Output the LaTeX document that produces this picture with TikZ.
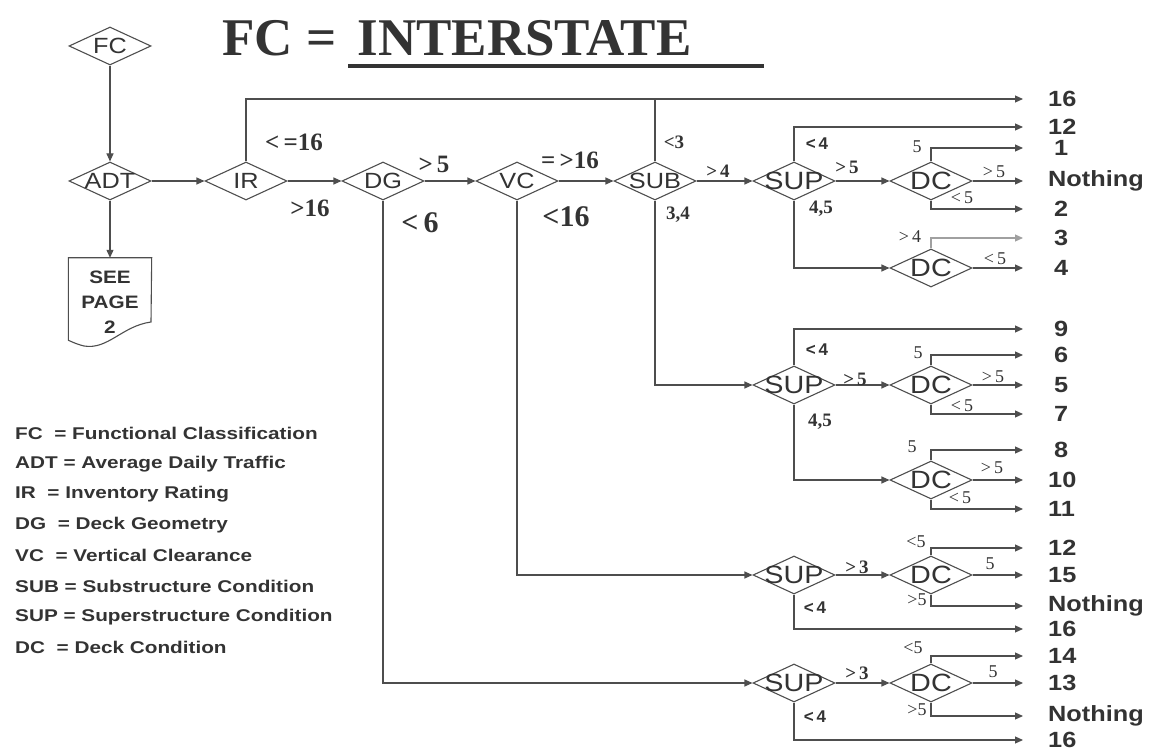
\documentclass[tikz,border=0pt]{standalone}
\usepackage{fontspec}
\setmainfont{Liberation Serif}
\setsansfont{Liberation Sans}
\newfontfamily\widesf[FakeStretch=1.15]{Liberation Sans}
\newfontfamily\xwidesf[FakeStretch=1.22]{Liberation Sans}
\usepackage{tikz}
\usetikzlibrary{arrows.meta,shapes.geometric}
\definecolor{ink}{HTML}{333333}
\definecolor{linec}{HTML}{4E4E4E}
\definecolor{faint}{HTML}{A0A0A0}
\tikzset{
  ln/.style={line width=1.1pt,linec},
  ar/.style={-{Triangle[length=8pt,width=7pt]},line width=1.1pt,linec},
  oar/.style={ar,shorten >=25pt},
  dm/.style={diamond,draw=linec,line width=1.1pt,shape aspect=2.2,minimum width=82pt,minimum height=38pt,
    inner sep=0pt,inner xsep=-16pt,text=ink,font=\widesf\fontsize{22}{22}\selectfont},
  dmb/.style={dm,font=\widesf\fontsize{25}{25}\selectfont},
  res/.style={anchor=west,inner sep=0pt,minimum width=26pt,text=ink,font=\widesf\bfseries\fontsize{22}{22}\selectfont},
  lbig/.style={inner sep=0pt,text=ink,font=\bfseries\fontsize{25}{25}\selectfont},
  lhuge/.style={inner sep=0pt,text=ink,font=\bfseries\fontsize{30}{30}\selectfont},
  lsm/.style={inner sep=0pt,text=ink,font=\bfseries\fontsize{19}{19}\selectfont},
  lrg/.style={inner sep=0pt,text=ink,font=\fontsize{18}{18}\selectfont},
  lsf/.style={inner sep=0pt,text=ink,font=\sffamily\bfseries\fontsize{17}{17}\selectfont},
  leg/.style={anchor=west,inner sep=0pt,text=ink,font=\xwidesf\bfseries\fontsize{17}{17}\selectfont}
}
\begin{document}
\begin{tikzpicture}[x=1pt,y=-1pt]
\useasboundingbox (0,0) rectangle (1167,751);
% title
\node[anchor=base west,inner sep=0pt,text=ink,font=\bfseries\fontsize{53}{53}\selectfont] (ttl) at (222,56) {FC = \hspace{8pt}INTERSTATE};
\draw[line width=4pt,ink] (348,66) -- (764,66);
% decision chain
\node[dm] (fc) at (110,46) {FC};
\node[dm] (adt) at (110,181) {ADT};
\node[dm] (ir) at (246,181) {IR};
\node[dm] (dg) at (383,181) {DG};
\node[dm] (vc) at (517,181) {VC};
\node[dm] (sub) at (655,181) {SUB};
\node[dmb] (supa) at (794,181) {SUP};
\node[dmb] (dca) at (931,181) {DC};
\node[dmb] (dcb) at (931,268) {DC};
\node[dmb] (supb) at (794,385) {SUP};
\node[dmb] (dcc) at (931,385) {DC};
\node[dmb] (dcd) at (931,480) {DC};
\node[dmb] (supc) at (794,575) {SUP};
\node[dmb] (dce) at (931,575) {DC};
\node[dmb] (supd) at (794,683) {SUP};
\node[dmb] (dcf) at (931,683) {DC};
% see page 2
\node[minimum width=83pt,minimum height=82pt,inner sep=0pt] (doc) at (110,299) {};
\node[align=center,inner sep=0pt,text=ink,font=\widesf\bfseries\fontsize{18}{25}\selectfont] (doctxt) at (110,302) {SEE\\PAGE\\2};
\draw[ln] (doc.north west) -- (doc.north east) -- (151,322) .. controls (122,326) and (108,350) .. (84,346)
  .. controls (76,344) and (70,341) .. (doc.south west) -- cycle;
% results
\foreach \n/\y/\t in {top/99/16,ra/127/12,rb/148/1,rc/181/Nothing,rd/209/2,re/238/3,rf/268/4,
  rg/329/9,rh/355/6,ri/385/5,rj/414/7,rk/450/8,rl/480/10,rm/509/11,
  rn/548/12,ro/575/15,rp/606/Nothing,rq/629/16,rr/656/14,rs/683/13,rt/716/Nothing,ru/740/16}
  \node[res] (\n) at (1048,\y) {\t};
% connectors
\draw[ar] (fc) -- (adt);
\draw[ar] (adt) -- (doc);
\draw[ar] (adt) -- (ir);
\draw[ar] (ir) -- (dg);
\draw[ar] (dg) -- (vc);
\draw[ar] (vc) -- (sub);
\draw[ar] (sub) -- (supa);
\draw[ar] (supa) -- (dca);
\draw[oar] (ir.north) |- (top.west);
\draw[ln] (sub.north) -- (sub.north |- top.west);
\draw[oar] (supa.north) |- (ra.west);
\draw[oar] (dca.north) |- (rb.west);
\draw[oar] (dca.east) -- (rc.west);
\draw[oar] (dca.south) |- (rd.west);
\draw[ar] (supa.south) |- (dcb.west);
\draw[oar,faint] (dcb.north) |- (re.west);
\draw[oar] (dcb.east) -- (rf.west);
\draw[ar] (sub.south) |- (supb.west);
\draw[oar] (supb.north) |- (rg.west);
\draw[ar] (supb) -- (dcc);
\draw[oar] (dcc.north) |- (rh.west);
\draw[oar] (dcc.east) -- (ri.west);
\draw[oar] (dcc.south) |- (rj.west);
\draw[ar] (supb.south) |- (dcd.west);
\draw[oar] (dcd.north) |- (rk.west);
\draw[oar] (dcd.east) -- (rl.west);
\draw[oar] (dcd.south) |- (rm.west);
\draw[ar] (vc.south) |- (supc.west);
\draw[ar] (supc) -- (dce);
\draw[oar] (dce.north) |- (rn.west);
\draw[oar] (dce.east) -- (ro.west);
\draw[oar] (dce.south) |- (rp.west);
\draw[oar] (supc.south) |- (rq.west);
\draw[ar] (dg.south) |- (supd.west);
\draw[ar] (supd) -- (dcf);
\draw[oar] (dcf.north) |- (rr.west);
\draw[oar] (dcf.east) -- (rs.west);
\draw[oar] (dcf.south) |- (rt.west);
\draw[oar] (supd.south) |- (ru.west);
% branch values
\node[lbig] (lira) at (294,142) {<\,=16};
\node[lbig] (lirb) at (310,208) {>16};
\node[lbig] (ldga) at (434,164) {>\,5};
\node[lhuge] (ldgb) at (420,223) {<\,6};
\node[lbig] (lvca) at (570,160) {=\,>16};
\node[lhuge] (lvcb) at (566,217) {<16};
\foreach \p/\t [count=\i] in {{(674,142)}/<3,{(678,215)}/{3,4},{(718,171)}/>\,4,
  {(847,167)}/>\,5,{(821,209)}/{4,5},{(855,379)}/>\,5,{(820,422)}/{4,5},
  {(857,567)}/>\,3,{(857,673)}/>\,3}
  \node[lsm] (ls\i) at \p {\t};
\foreach \p [count=\i] in {(817,144),(817,350),(815,608),(815,717)}
  \node[lsf] (lf\i) at \p {<\,4};
\foreach \p/\t [count=\i] in {{(917,147)}/5,{(994,172)}/>\,5,{(962,198)}/<\,5,{(910,237)}/>\,4,{(995,259)}/<\,5,
  {(918,353)}/5,{(993,377)}/>\,5,{(962,406)}/<\,5,{(912,447)}/5,{(992,468)}/>\,5,{(960,498)}/<\,5,
  {(916,542)}/<5,{(990,564)}/5,{(917,600)}/>5,{(913,648)}/<5,{(993,672)}/5,{(917,710)}/>5}
  \node[lrg] (lr\i) at \p {\t};
% legend
\foreach \t [count=\i] in {FC~~= Functional Classification,ADT = Average Daily Traffic,IR~~= Inventory Rating,
  DG~~= Deck Geometry,VC~~= Vertical Clearance,SUB = Substructure Condition,
  SUP = Superstructure Condition,DC~~= Deck Condition}
  \node[leg] (leg\i) at (15,{433+30.7*(\i-1)}) {\t};
\end{tikzpicture}
\end{document}
